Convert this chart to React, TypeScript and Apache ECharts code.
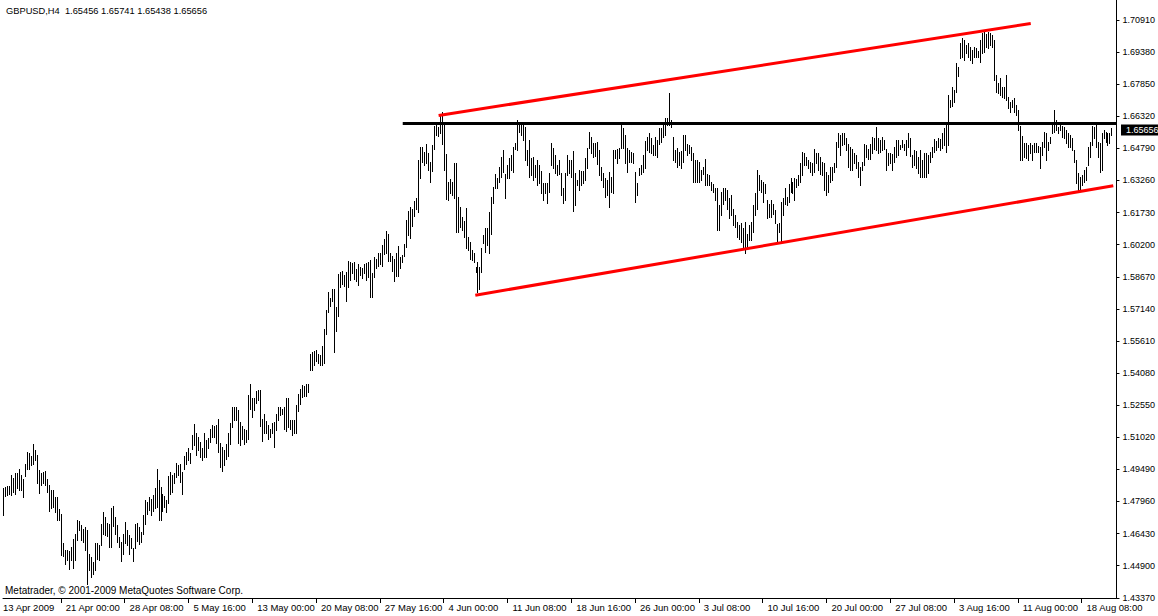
import React, { useEffect, useRef } from 'react';
import * as echarts from 'echarts';

const titleText = 'GBPUSD,H4  1.65456 1.65741 1.65438 1.65656';
const footerText = 'Metatrader, \u00a9 2001-2009 MetaQuotes Software Corp.';
const lastClose = 1.65656;

const barHigh = [
  1.4858,1.4866,1.4871,1.4871,1.4922,1.4906,1.4930,1.4933,1.4949,1.4922,
  1.4901,1.4977,1.5033,1.5025,1.5012,1.5070,1.5041,1.5017,1.4946,1.4930,
  1.4938,1.4942,1.4901,1.4874,1.4853,1.4850,1.4815,1.4815,1.4758,1.4736,
  1.4596,1.4564,1.4564,1.4561,1.4580,1.4615,1.4643,1.4710,1.4704,1.4683,
  1.4667,1.4675,1.4659,1.4548,1.4532,1.4508,1.4596,1.4599,1.4588,1.4688,
  1.4747,1.4723,1.4694,1.4688,1.4763,1.4774,1.4723,1.4683,1.4628,1.4604,
  1.4643,1.4699,1.4659,1.4635,1.4620,1.4572,1.4688,1.4694,1.4675,1.4651,
  1.4731,1.4802,1.4795,1.4815,1.4810,1.4826,1.4858,1.4949,1.4898,1.4866,
  1.4834,1.4822,1.4802,1.4917,1.4938,1.4922,1.4930,1.4980,1.4969,1.4977,
  1.4938,1.5012,1.5033,1.5049,1.5025,1.5112,1.5165,1.5120,1.5101,1.5081,
  1.5049,1.5120,1.5089,1.5097,1.5140,1.5160,1.5155,1.5160,1.5190,1.5073,
  1.5057,1.5040,1.5069,1.5123,1.5170,1.5247,1.5244,1.5244,1.5234,1.5175,
  1.5155,1.5143,1.5139,1.5302,1.5355,1.5287,1.5287,1.5323,1.5329,1.5329,
  1.5191,1.5212,1.5180,1.5159,1.5143,1.5170,1.5175,1.5212,1.5244,1.5244,
  1.5239,1.5247,1.5287,1.5287,1.5183,1.5183,1.5183,1.5255,1.5310,1.5334,
  1.5350,1.5345,1.5355,1.5355,1.5501,1.5509,1.5514,1.5520,1.5498,1.5493,
  1.5536,1.5616,1.5708,1.5795,1.5764,1.5811,1.5811,1.5724,1.5880,1.5891,
  1.5896,1.5875,1.5891,1.5943,1.5938,1.5934,1.5938,1.5902,1.5927,1.5915,
  1.5911,1.5930,1.5934,1.5938,1.5946,1.5883,1.5962,1.5954,1.5978,1.5981,
  1.6018,1.6045,1.6086,1.6070,1.5978,1.5966,1.5954,1.5978,1.6013,1.5959,
  1.5970,1.6023,1.6137,1.6182,1.6198,1.6188,1.6229,1.6241,1.6423,1.6486,
  1.6486,1.6463,1.6502,1.6455,1.6415,1.6494,1.6585,1.6606,1.6582,1.6642,
  1.6653,1.6590,1.6450,1.6320,1.6333,1.6320,1.6407,1.6407,1.6248,1.6201,
  1.6153,1.6132,1.6193,1.6058,1.6034,1.5994,1.5978,1.5914,1.5938,1.5914,
  1.6002,1.6065,1.6097,1.6097,1.6177,1.6248,1.6296,1.6355,1.6339,1.6391,
  1.6439,1.6471,1.6355,1.6399,1.6434,1.6447,1.6487,1.6503,1.6614,1.6590,
  1.6590,1.6590,1.6582,1.6471,1.6519,1.6431,1.6439,1.6399,1.6423,1.6399,
  1.6371,1.6312,1.6312,1.6312,1.6360,1.6503,1.6479,1.6447,1.6399,1.6423,
  1.6360,1.6288,1.6360,1.6447,1.6423,1.6423,1.6466,1.6360,1.6328,1.6376,
  1.6371,1.6371,1.6434,1.6479,1.6558,1.6535,1.6503,1.6503,1.6511,1.6471,
  1.6391,1.6360,1.6336,1.6328,1.6368,1.6344,1.6471,1.6471,1.6476,1.6482,
  1.6598,1.6577,1.6543,1.6482,1.6471,1.6463,1.6455,1.6368,1.6312,1.6384,
  1.6399,1.6447,1.6514,1.6535,1.6550,1.6527,1.6495,1.6535,1.6519,1.6574,
  1.6574,1.6590,1.6622,1.6622,1.6741,1.6614,1.6535,1.6471,1.6479,1.6463,
  1.6466,1.6542,1.6542,1.6502,1.6494,1.6486,1.6455,1.6423,1.6423,1.6415,
  1.6375,1.6391,1.6426,1.6359,1.6351,1.6319,1.6311,1.6288,1.6288,1.6208,
  1.6272,1.6288,1.6288,1.6280,1.6240,1.6256,1.6192,1.6160,1.6129,1.6113,
  1.6121,1.6097,1.6129,1.6073,1.6113,1.6129,1.6208,1.6264,1.6375,1.6351,
  1.6327,1.6319,1.6311,1.6232,1.6216,1.6232,1.6216,1.6184,1.6118,1.6121,
  1.6224,1.6240,1.6288,1.6248,1.6311,1.6340,1.6319,1.6340,1.6335,1.6351,
  1.6407,1.6463,1.6455,1.6439,1.6423,1.6415,1.6407,1.6474,1.6455,1.6455,
  1.6439,1.6415,1.6407,1.6367,1.6351,1.6391,1.6391,1.6407,1.6510,1.6550,
  1.6542,1.6550,1.6550,1.6526,1.6502,1.6486,1.6478,1.6455,1.6447,1.6415,
  1.6391,1.6415,1.6499,1.6494,1.6474,1.6499,1.6534,1.6526,1.6582,1.6526,
  1.6521,1.6534,1.6521,1.6478,1.6455,1.6455,1.6451,1.6486,1.6518,1.6518,
  1.6494,1.6521,1.6502,1.6521,1.6550,1.6526,1.6447,1.6470,1.6467,1.6439,
  1.6471,1.6423,1.6455,1.6458,1.6447,1.6463,1.6487,1.6522,1.6515,1.6527,
  1.6522,1.6550,1.6574,1.6590,1.6733,1.6709,1.6773,1.6757,1.6884,1.6868,
  1.6980,1.7004,1.6996,1.6972,1.6983,1.6964,1.6948,1.6961,1.6956,1.6945,
  1.6996,1.7027,1.7035,1.7024,1.7035,1.7027,1.7019,1.6996,1.6829,1.6789,
  1.6813,1.6773,1.6773,1.6829,1.6725,1.6701,1.6709,1.6717,1.6686,1.6662,
  1.6585,1.6538,1.6503,1.6503,1.6495,1.6503,1.6495,1.6506,1.6503,1.6490,
  1.6487,1.6511,1.6558,1.6550,1.6511,1.6535,1.6598,1.6662,1.6614,1.6582,
  1.6590,1.6585,1.6582,1.6566,1.6550,1.6542,1.6527,1.6471,1.6423,1.6360,
  1.6344,1.6352,1.6376,1.6391,1.6487,1.6511,1.6585,1.6582,1.6590,1.6511,
  1.6503,1.6550,1.6566,1.6558,1.6550,1.6550,1.6574,
];

const barLow = [
  1.4731,1.4821,1.4826,1.4831,1.4826,1.4842,1.4834,1.4858,1.4850,1.4853,
  1.4818,1.4917,1.4953,1.4949,1.4969,1.4977,1.4996,1.4882,1.4837,1.4874,
  1.4882,1.4874,1.4842,1.4752,1.4763,1.4768,1.4747,1.4707,1.4707,1.4540,
  1.4535,1.4497,1.4516,1.4472,1.4519,1.4477,1.4519,1.4612,1.4659,1.4612,
  1.4604,1.4564,1.4402,1.4469,1.4437,1.4449,1.4469,1.4524,1.4516,1.4588,
  1.4643,1.4635,1.4631,1.4577,1.4580,1.4678,1.4643,1.4604,1.4580,1.4513,
  1.4548,1.4599,1.4588,1.4548,1.4572,1.4513,1.4572,1.4609,1.4593,1.4604,
  1.4643,1.4691,1.4736,1.4755,1.4731,1.4752,1.4763,1.4768,1.4707,1.4710,
  1.4752,1.4768,1.4747,1.4787,1.4831,1.4842,1.4882,1.4911,1.4922,1.4890,
  1.4834,1.4953,1.4977,1.4993,1.4980,1.5044,1.5065,1.5017,1.5041,1.5009,
  1.4993,1.5009,1.5009,1.5049,1.5081,1.5101,1.5105,1.5073,1.5033,1.4961,
  1.4942,1.4969,1.4998,1.5011,1.5072,1.5151,1.5186,1.5183,1.5075,1.5064,
  1.5096,1.5072,1.5080,1.5096,1.5239,1.5199,1.5234,1.5266,1.5279,1.5155,
  1.5085,1.5120,1.5123,1.5096,1.5104,1.5120,1.5056,1.5139,1.5186,1.5207,
  1.5215,1.5143,1.5132,1.5151,1.5143,1.5112,1.5120,1.5123,1.5228,1.5260,
  1.5295,1.5298,1.5298,1.5318,1.5425,1.5422,1.5446,1.5466,1.5457,1.5446,
  1.5446,1.5457,1.5593,1.5700,1.5727,1.5752,1.5509,1.5609,1.5679,1.5816,
  1.5832,1.5822,1.5752,1.5819,1.5851,1.5886,1.5854,1.5848,1.5827,1.5875,
  1.5859,1.5886,1.5851,1.5867,1.5771,1.5771,1.5867,1.5911,1.5918,1.5927,
  1.5918,1.5975,1.5981,1.5943,1.5943,1.5896,1.5848,1.5870,1.5870,1.5907,
  1.5938,1.5966,1.6010,1.6066,1.6050,1.6109,1.6156,1.6188,1.6176,1.6340,
  1.6415,1.6399,1.6407,1.6375,1.6319,1.6372,1.6474,1.6542,1.6537,1.6550,
  1.6502,1.6376,1.6237,1.6232,1.6264,1.6256,1.6240,1.6081,1.6081,1.6105,
  1.6089,1.6058,1.6002,1.5994,1.5954,1.5946,1.5935,1.5891,1.5795,1.5811,
  1.5891,1.6026,1.5986,1.6018,1.5978,1.6073,1.6217,1.6288,1.6288,1.6320,
  1.6344,1.6368,1.6240,1.6339,1.6336,1.6376,1.6368,1.6476,1.6471,1.6558,
  1.6543,1.6519,1.6423,1.6399,1.6344,1.6352,1.6328,1.6344,1.6304,1.6312,
  1.6264,1.6232,1.6264,1.6217,1.6272,1.6399,1.6384,1.6360,1.6352,1.6355,
  1.6256,1.6217,1.6232,1.6352,1.6360,1.6344,1.6180,1.6209,1.6304,1.6280,
  1.6304,1.6312,1.6328,1.6387,1.6479,1.6455,1.6439,1.6444,1.6403,1.6352,
  1.6328,1.6296,1.6248,1.6256,1.6201,1.6272,1.6264,1.6431,1.6407,1.6431,
  1.6479,1.6479,1.6407,1.6364,1.6415,1.6415,1.6407,1.6225,1.6256,1.6352,
  1.6355,1.6368,1.6384,1.6471,1.6463,1.6455,1.6447,1.6447,1.6439,1.6498,
  1.6511,1.6535,1.6543,1.6590,1.6590,1.6582,1.6423,1.6415,1.6391,1.6399,
  1.6384,1.6415,1.6470,1.6447,1.6455,1.6423,1.6319,1.6319,1.6319,1.6319,
  1.6327,1.6359,1.6304,1.6304,1.6304,1.6280,1.6272,1.6232,1.6089,1.6089,
  1.6160,1.6216,1.6232,1.6192,1.6145,1.6160,1.6113,1.6105,1.6057,1.6049,
  1.6033,1.6009,1.5978,1.6009,1.6041,1.6041,1.6081,1.6160,1.6192,1.6280,
  1.6272,1.6224,1.6264,1.6145,1.6153,1.6153,1.6168,1.6121,1.6033,1.6081,
  1.6033,1.6160,1.6216,1.6208,1.6224,1.6272,1.6264,1.6232,1.6296,1.6304,
  1.6319,1.6351,1.6399,1.6399,1.6383,1.6367,1.6351,1.6367,1.6407,1.6375,
  1.6359,1.6351,1.6280,1.6256,1.6272,1.6319,1.6327,1.6367,1.6391,1.6486,
  1.6447,1.6494,1.6502,1.6470,1.6391,1.6375,1.6375,1.6407,1.6383,1.6343,
  1.6304,1.6375,1.6399,1.6439,1.6426,1.6426,1.6455,1.6478,1.6470,1.6455,
  1.6463,1.6470,1.6478,1.6378,1.6399,1.6407,1.6375,1.6415,1.6439,1.6447,
  1.6474,1.6486,1.6470,1.6447,1.6486,1.6442,1.6391,1.6399,1.6383,1.6360,
  1.6344,1.6344,1.6344,1.6344,1.6360,1.6415,1.6439,1.6463,1.6471,1.6487,
  1.6471,1.6479,1.6495,1.6463,1.6495,1.6674,1.6681,1.6701,1.6749,1.6824,
  1.6908,1.6916,1.6900,1.6932,1.6916,1.6900,1.6884,1.6913,1.6913,1.6916,
  1.6892,1.6932,1.6940,1.6964,1.6956,1.6972,1.6964,1.6805,1.6749,1.6744,
  1.6733,1.6725,1.6717,1.6709,1.6670,1.6654,1.6678,1.6654,1.6638,1.6566,
  1.6423,1.6423,1.6439,1.6431,1.6423,1.6458,1.6423,1.6463,1.6463,1.6463,
  1.6383,1.6447,1.6487,1.6423,1.6471,1.6503,1.6554,1.6558,1.6566,1.6550,
  1.6566,1.6535,1.6527,1.6503,1.6487,1.6487,1.6471,1.6415,1.6312,1.6272,
  1.6280,1.6304,1.6320,1.6328,1.6399,1.6439,1.6495,1.6527,1.6487,1.6439,
  1.6368,1.6376,1.6527,1.6511,1.6495,1.6503,1.6542,
];

const xTickBars = [29, 61, 93, 125, 157, 189, 221, 253, 285, 317, 349, 381, 413, 445, 477, 509, 541];
const xTickLabels = [
  '21 Apr 00:00', '28 Apr 08:00', '5 May 16:00', '13 May 00:00', '20 May 08:00', '27 May 16:00',
  '4 Jun 00:00', '11 Jun 08:00', '18 Jun 16:00', '26 Jun 00:00', '3 Jul 08:00', '10 Jul 16:00',
  '20 Jul 00:00', '27 Jul 08:00', '3 Aug 16:00', '11 Aug 00:00', '18 Aug 08:00',
];
const firstDateLabel = '13 Apr 2009';

const yTickValues = [
  1.4337, 1.4490, 1.4643, 1.4796, 1.4949, 1.5102, 1.5255, 1.5408, 1.5561, 1.5714,
  1.5867, 1.6020, 1.6173, 1.6326, 1.6479, 1.6632, 1.6785, 1.6938, 1.7091,
];

const resistanceLine = [[200.5, 1.6597], [558.5, 1.6597]];
const upperChannel = [[218.5, 1.6636], [515.5, 1.7074]];
const lowerChannel = [[236.9, 1.5779], [556.9, 1.6301]];

const FONT = '"Liberation Sans", Arial, sans-serif';

export default function App() {
  const ref = useRef<HTMLDivElement>(null);
  useEffect(() => {
    if (!ref.current) return;
    const chart = echarts.init(ref.current, undefined, { renderer: 'svg' });
    const bars = barHigh.map((h, i) => [i, h, barLow[i]]);
    chart.setOption({
      animation: false,
      backgroundColor: '#ffffff',
      grid: { left: 3, right: 38, top: 0, bottom: 18 },
      xAxis: {
        type: 'value',
        min: 0,
        max: 558.5,
        position: 'bottom',
        axisLine: { show: true, onZero: false, lineStyle: { color: '#000', width: 1 } },
        axisTick: { show: true, customValues: xTickBars, length: 5, lineStyle: { color: '#000' } },
        axisLabel: {
          show: true,
          customValues: xTickBars,
          formatter: (v: number) => {
            const k = xTickBars.indexOf(Math.round(v));
            return k >= 0 ? xTickLabels[k] : '';
          },
          align: 'left',
          padding: [0, 0, 0, 5],
          margin: 4,
          color: '#000',
          fontSize: 9.5,
          fontFamily: FONT,
        },
        splitLine: { show: false },
      },
      yAxis: {
        type: 'value',
        position: 'right',
        min: 1.4336,
        max: 1.7186,
        axisLine: { show: true, onZero: false, lineStyle: { color: '#000', width: 1 } },
        axisTick: { show: true, customValues: yTickValues, length: 3, lineStyle: { color: '#000' } },
        axisLabel: {
          show: true,
          customValues: yTickValues,
          formatter: (v: number) => v.toFixed(5),
          margin: 6,
          color: '#000',
          fontSize: 9,
          fontFamily: FONT,
        },
        splitLine: { show: false },
      },
      series: [
        {
          type: 'custom',
          clip: true,
          data: bars,
          encode: { x: 0, y: [1, 2] },
          renderItem: (params: any, api: any) => {
            const i = api.value(0);
            const top = api.coord([i, api.value(1)]);
            const bot = api.coord([i, api.value(2)]);
            const x = Math.round(top[0]) + 0.5;
            return {
              type: 'line',
              shape: { x1: x, y1: Math.round(top[1]), x2: x, y2: Math.round(bot[1]) + 1 },
              style: { stroke: '#000', lineWidth: 1 },
            };
          },
          z: 3,
        },
        {
          type: 'line',
          data: resistanceLine,
          showSymbol: false,
          symbol: 'none',
          lineStyle: { color: '#000', width: 3 },
          z: 4,
        },
        {
          type: 'line',
          data: upperChannel,
          showSymbol: false,
          symbol: 'none',
          lineStyle: { color: '#ff0000', width: 3 },
          z: 5,
        },
        {
          type: 'line',
          data: lowerChannel,
          showSymbol: false,
          symbol: 'none',
          lineStyle: { color: '#ff0000', width: 3 },
          z: 5,
        },
      ],
    });
    const py = chart.convertToPixel({ yAxisIndex: 0 }, lastClose) as number;
    chart.setOption({
      graphic: [
        {
          type: 'text',
          x: 6,
          y: 11,
          style: { text: titleText, fill: '#000', fontSize: 9.3, fontFamily: FONT, verticalAlign: 'middle', align: 'left' },
        },
        {
          type: 'text',
          x: 5,
          y: 590,
          style: { text: footerText, fill: '#000', fontSize: 10, fontFamily: FONT, verticalAlign: 'middle', align: 'left' },
        },
        {
          type: 'text',
          x: 3,
          y: 602,
          style: { text: firstDateLabel, fill: '#000', fontSize: 9.5, fontFamily: FONT, verticalAlign: 'top', align: 'left' },
        },
        {
          type: 'rect',
          shape: { x: 1121, y: Math.round(py) - 5.5, width: 37, height: 11 },
          style: { fill: '#000' },
          z: 10,
        },
        {
          type: 'text',
          x: 1126,
          y: Math.round(py),
          style: { text: lastClose.toFixed(5), fill: '#fff', fontSize: 9, fontFamily: FONT, verticalAlign: 'middle', align: 'left' },
          z: 11,
        },
      ],
    });
    return () => chart.dispose();
  }, []);
  return (
    <div
      ref={ref}
      style={{ position: 'absolute', left: 0, top: 0, width: 1158, height: 616, background: '#fff' }}
    />
  );
}
